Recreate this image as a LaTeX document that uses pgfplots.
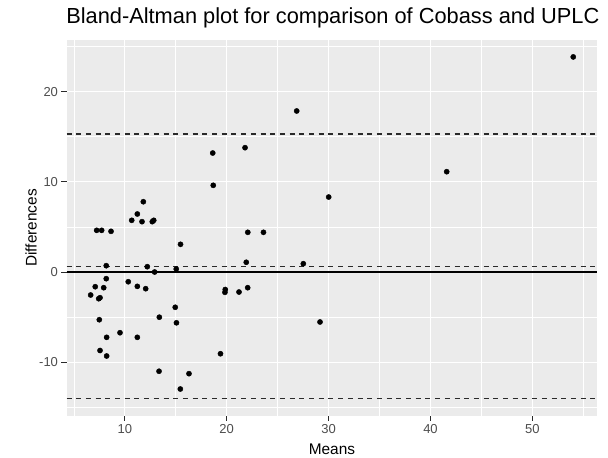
\documentclass[border=0pt]{standalone}
\usepackage{pgfplots}
\pgfplotsset{compat=1.18}
\usepackage{pgfplotstable}
\usepackage{fontspec}
\setmainfont{Liberation Sans}

\definecolor{panelgray}{HTML}{EBEBEB}
\definecolor{tickgray}{HTML}{4D4D4D}
\definecolor{linegray}{HTML}{2A2A2A}

% means vs differences
\pgfplotstableread{
x y
6.65 -2.55
7.44 -2.96
7.57 -2.85
7.10 -1.63
7.93 -1.74
7.24 4.62
7.73 4.62
8.65 4.51
8.18 0.70
8.18 -0.74
7.50 -5.29
7.57 -8.70
8.22 -9.31
8.22 -7.24
9.53 -6.73
10.34 -1.08
11.23 -1.59
12.05 -1.85
11.23 -7.24
10.68 5.73
11.23 6.43
11.82 7.79
11.69 5.58
12.70 5.58
12.84 5.73
12.21 0.59
12.93 0.00
13.39 -5.01
13.36 -11.00
14.95 -3.91
15.07 -5.63
15.05 0.33
15.47 3.07
15.45 -12.97
16.30 -11.27
18.63 13.19
18.68 9.61
19.39 -9.06
19.86 -1.94
19.83 -2.25
21.21 -2.22
22.06 -1.74
21.92 1.08
22.07 4.40
23.61 4.40
21.80 13.78
26.87 17.85
27.52 0.92
29.16 -5.54
30.01 8.31
41.59 11.12
54.01 23.84
}\ba

\begin{document}
\begin{tikzpicture}
\begin{axis}[
  scale only axis,
  width=530.9bp, height=376.1bp,
  xmin=4.28, xmax=56.38,
  ymin=-15.95, ymax=25.74,
  axis background/.style={fill=panelgray},
  axis line style={draw=none},
  xtick={10,20,30,40,50},
  ytick={-10,0,10,20},
  minor xtick={5,15,25,35,45,55},
  minor ytick={-15,-5,5,15,25},
  grid=both,
  major grid style={white, line width=1.3bp},
  minor grid style={white, line width=0.6bp},
  tick align=outside,
  xtick pos=bottom, ytick pos=left,
  major tick length=5bp, minor tick length=0pt,
  tick style={linegray, line width=0.8bp},
  /pgf/number format/assume math mode=true,
  ticklabel style={font=\fontsize{13bp}{15bp}\selectfont, text=tickgray},
  xlabel={Means}, ylabel={Differences},
  xlabel style={at={(axis description cs:0.5,-0.1013)}, anchor=base,
    font=\fontsize{15.4bp}{18bp}\selectfont},
  ylabel style={at={(axis description cs:-0.0561,0.5)}, anchor=base, rotate=0,
    font=\fontsize{15.4bp}{18bp}\selectfont},
  title={Bland-Altman plot for comparison of Cobass and UPLC},
  title style={at={(axis description cs:-0.007,1.0287)}, anchor=base west,
    font=\fontsize{21.8bp}{25bp}\selectfont},
  clip=false,
]
\addplot[black, line width=1.2bp] coordinates {(4.28,0) (56.38,0)};
\addplot[linegray, line width=1.3bp, dash pattern=on 5bp off 4.7bp] coordinates {(4.28,15.30) (56.38,15.30)};
\addplot[linegray, line width=1.3bp, dash pattern=on 5bp off 4.7bp] coordinates {(4.28,0.59) (56.38,0.59)};
\addplot[linegray, line width=1.3bp, dash pattern=on 5bp off 4.7bp] coordinates {(4.28,-14.05) (56.38,-14.05)};
\addplot[only marks, mark=*, mark size=2.6bp, black] table[x=x, y=y] {\ba};
\end{axis}
\pgfresetboundingbox
\path[use as bounding box] ([xshift=-66.5bp,yshift=-42.1bp]current axis.south west)
  rectangle ([xshift=10.6bp,yshift=39.8bp]current axis.north east);
\end{tikzpicture}
\end{document}
